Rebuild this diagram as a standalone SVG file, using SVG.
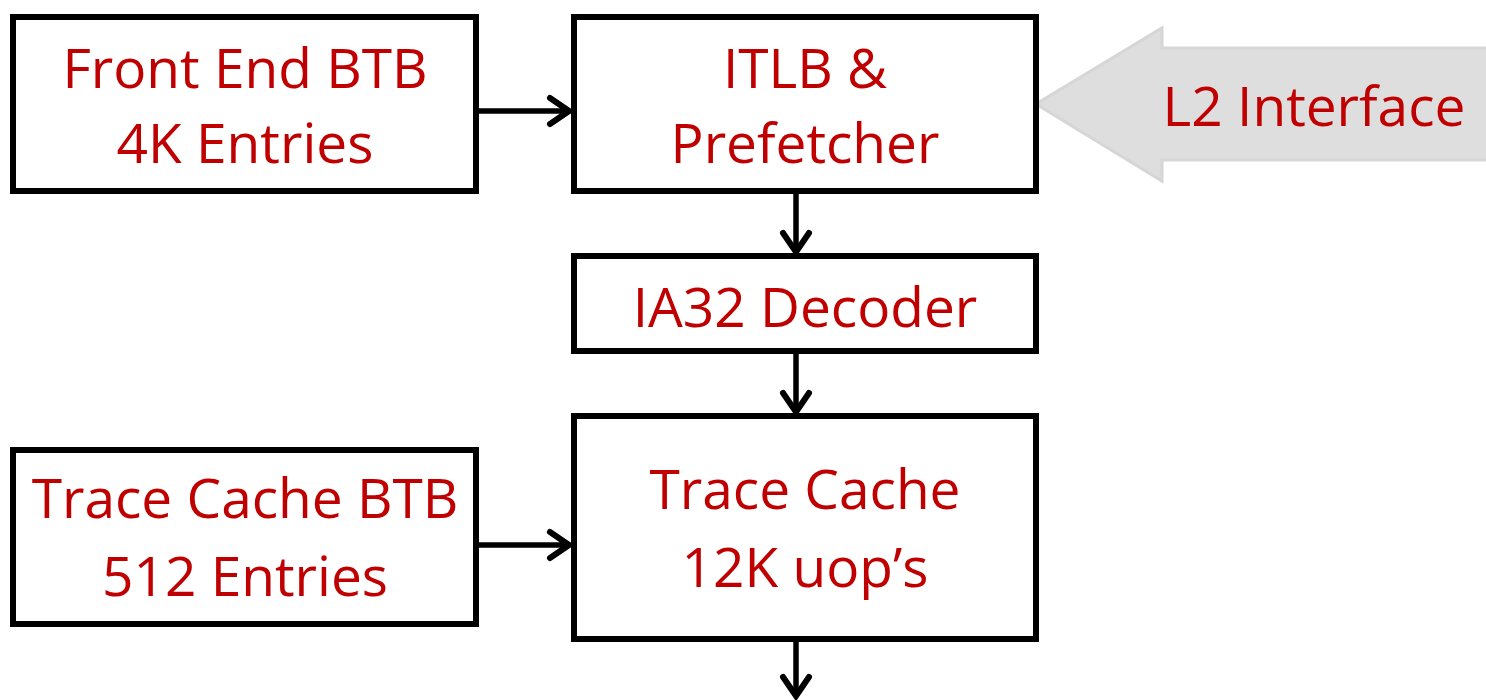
<svg xmlns="http://www.w3.org/2000/svg" width="1486" height="700" viewBox="0 0 1486 700">
<style>
.box{fill:#fff;stroke:#000;stroke-width:6}
.t{font-family:"Open Sans","Liberation Sans",sans-serif;font-size:55px;fill:#C00000;text-anchor:middle}
.c{stroke:#000;stroke-width:5.5;fill:none}
</style>
<defs>
<marker id="ah" markerUnits="userSpaceOnUse" viewBox="-26 -18 30 36" refX="0" refY="0" markerWidth="30" markerHeight="36" orient="auto">
<path d="M-19,-13 L0,0 L-19,13" fill="none" stroke="#000" stroke-width="6" stroke-linecap="round" stroke-linejoin="miter"/>
</marker>
</defs>
<rect width="1486" height="700" fill="#fff"/>
<g id="l2">
<polygon points="1036,104 1162,28 1162,48 1490,48 1490,160 1162,160 1162,181" fill="#DEDEDE" stroke="#D6D6D6" stroke-width="3"/>
<text class="t" x="1314" y="126">L2 Interface</text>
</g>
<g id="connectors">
<line class="c" x1="478" y1="111" x2="569" y2="111" marker-end="url(#ah)"/>
<line class="c" x1="796" y1="193" x2="796" y2="252" marker-end="url(#ah)"/>
<line class="c" x1="796" y1="353" x2="796" y2="412" marker-end="url(#ah)"/>
<line class="c" x1="478" y1="545" x2="569" y2="545" marker-end="url(#ah)"/>
<line class="c" x1="796" y1="641" x2="796" y2="696" marker-end="url(#ah)"/>
</g>
<g id="frontend-btb">
<rect class="box" x="13" y="17" width="463" height="174"/>
<text class="t" x="245" y="88">Front End BTB</text>
<text class="t" x="245" y="163">4K Entries</text>
</g>
<g id="itlb">
<rect class="box" x="574" y="17" width="462" height="174"/>
<text class="t" x="805" y="88">ITLB &amp;</text>
<text class="t" x="805" y="163">Prefetcher</text>
</g>
<g id="decoder">
<rect class="box" x="574" y="256" width="462" height="95"/>
<text class="t" x="805" y="327">IA32 Decoder</text>
</g>
<g id="trace-cache">
<rect class="box" x="574" y="416" width="462" height="223"/>
<text class="t" x="805" y="509">Trace Cache</text>
<text class="t" x="805" y="587">12K uop’s</text>
</g>
<g id="tc-btb">
<rect class="box" x="13" y="450" width="463" height="174"/>
<text class="t" x="245" y="518">Trace Cache BTB</text>
<text class="t" x="245" y="596">512 Entries</text>
</g>
</svg>
